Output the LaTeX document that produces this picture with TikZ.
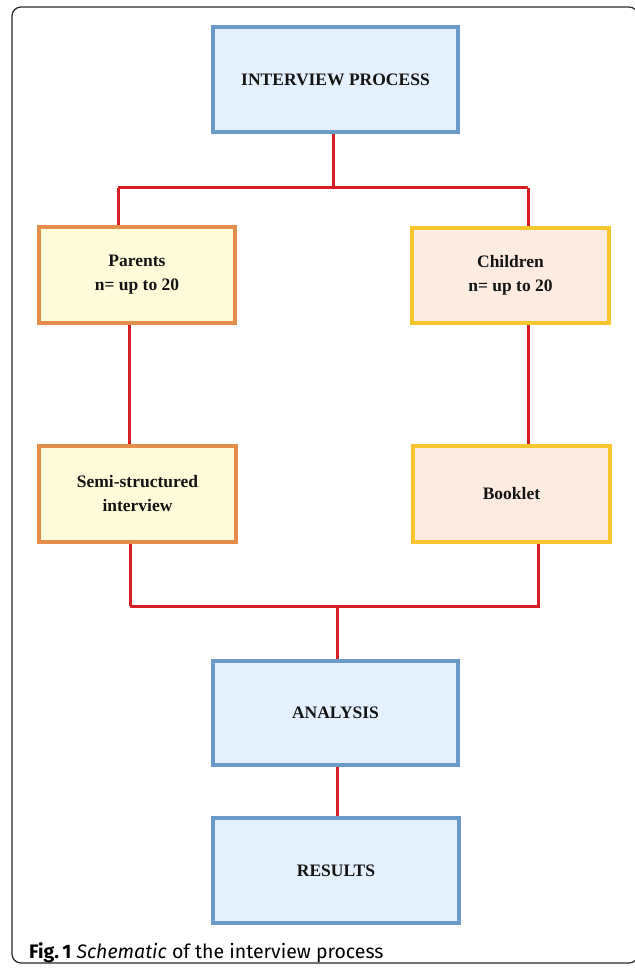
\documentclass[tikz,border=0pt]{standalone}
\usepackage{fontspec}
\setmainfont{Liberation Serif}
\newfontfamily\capfont{Fira Sans}
\begin{document}
\begin{tikzpicture}[x=1pt,y=-1pt,
  boxtext/.style={font=\bfseries\fontsize{17.5}{24}\selectfont, text=black!92, align=center, line width=3.4pt, inner sep=0pt},
  bluebox/.style={boxtext, draw=boxblue, fill=fillblue},
  orangebox/.style={boxtext, draw=boxorange, fill=fillyellow},
  yellowbox/.style={boxtext, draw=boxgold, fill=fillpeach},
  redline/.style={draw=linered, line width=3pt}]
\definecolor{boxblue}{HTML}{6A9AC8}
\definecolor{fillblue}{HTML}{E4F1FC}
\definecolor{boxorange}{HTML}{E58D4A}
\definecolor{fillyellow}{HTML}{FEFBDA}
\definecolor{boxgold}{HTML}{F7C52E}
\definecolor{fillpeach}{HTML}{FCEBE0}
\definecolor{linered}{HTML}{D71E26}
\useasboundingbox (0,0) rectangle (634,968);
\draw[line width=1.2pt, rounded corners=9pt, black!85] (12,7) rectangle (638,963);

\node[bluebox, minimum width=245pt, minimum height=105pt] (top) at (335.5,79.5) {INTERVIEW PROCESS};
\node[orangebox, minimum width=196pt, minimum height=96pt] (par) at (137,275) {Parents\\n= up to 20};
\node[yellowbox, minimum width=197pt, minimum height=95pt] (chi) at (510.5,275.5) {Children\\n= up to 20};
\node[orangebox, minimum width=197pt, minimum height=96pt] (semi) at (137.5,494) {Semi-structured\\interview};
\node[yellowbox, minimum width=197pt, minimum height=96pt] (book) at (511.5,494) {Booklet};
\node[bluebox, minimum width=245pt, minimum height=104pt] (ana) at (335.5,713) {ANALYSIS};
\node[bluebox, minimum width=246pt, minimum height=105pt] (res) at (336,870.5) {RESULTS};

\coordinate (j1) at (333,188);
\coordinate (j1l) at (118,188);
\coordinate (j1r) at (528,188);
\coordinate (j2) at (337,606);
\coordinate (j2l) at (130,606);
\coordinate (j2r) at (540,606);

\draw[redline] (top.south -| j1) -- (j1);
\draw[redline] (j1l) -- (j1r);
\draw[redline] (j1l) -- (j1l |- par.north);
\draw[redline] (j1r) -- (j1r |- chi.north);
\draw[redline] (par.south -| 129,0) -- (semi.north -| 129,0);
\draw[redline] (chi.south -| 528,0) -- (book.north -| 528,0);
\draw[redline] (semi.south -| j2l) -- (j2l);
\draw[redline] (book.south -| 538,0) -- (538,606);
\draw[redline] (j2l) -- (j2r);
\draw[redline] (j2) -- (j2 |- ana.north);
\draw[redline] (ana.south -| j2) -- (res.north -| j2);

\node[anchor=base west, inner sep=0pt, font=\capfont\fontsize{19.5}{22}\selectfont] (cap) at (29,958) {\textbf{Fig.\,1} \textit{Schematic} of the interview process};
\end{tikzpicture}
\end{document}
